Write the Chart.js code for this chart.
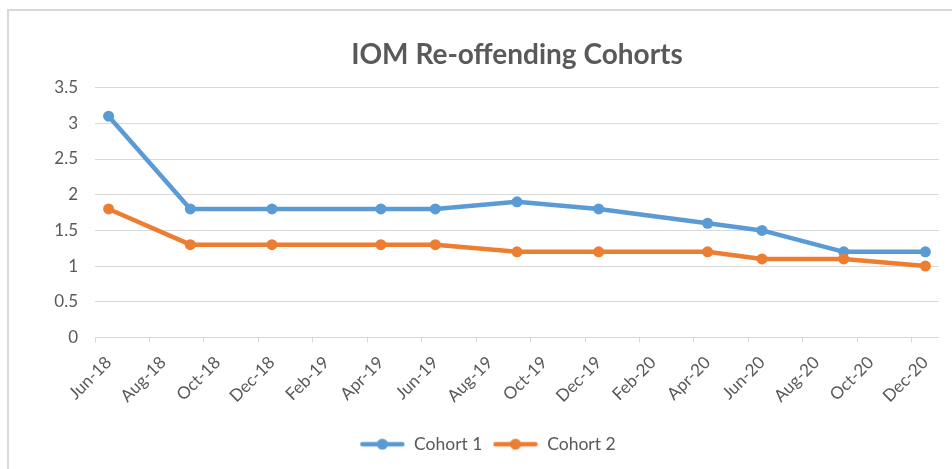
<!DOCTYPE html>
<html>
<head>
<meta charset="utf-8">
<script src="https://cdn.jsdelivr.net/npm/chart.js@4/dist/chart.umd.min.js"></script>
<style>
  html, body { margin: 0; padding: 0; background: #ffffff; overflow: hidden; }
  #wrap { position: relative; width: 952px; height: 469px; }
  #frame { position: absolute; left: 7px; top: 9px; width: 980px; height: 500px; border: 2px solid #d9d9d9; box-sizing: border-box; }
  canvas { position: absolute; left: 0; top: 0; }
</style>
</head>
<body>
<div id="wrap">
  <div id="frame"></div>
  <canvas id="c" width="952" height="469"></canvas>
</div>
<script>
// ---- data ----
const pointDates = ['2018-06','2018-09','2018-12','2019-04','2019-06','2019-09','2019-12','2020-04','2020-06','2020-09','2020-12'];
const cohort1 = [3.1, 1.8, 1.8, 1.8, 1.8, 1.9, 1.8, 1.6, 1.5, 1.2, 1.2];
const cohort2 = [1.8, 1.3, 1.3, 1.3, 1.3, 1.2, 1.2, 1.2, 1.1, 1.1, 1.0];
const seriesNames = ['Cohort 1', 'Cohort 2'];
const tickLabels = ['Jun-18','Aug-18','Oct-18','Dec-18','Feb-19','Apr-19','Jun-19','Aug-19','Oct-19','Dec-19','Feb-20','Apr-20','Jun-20','Aug-20','Oct-20','Dec-20'];
const yTicks = [0, 0.5, 1, 1.5, 2, 2.5, 3, 3.5];
const titleText = 'IOM Re-offending Cohorts';

// month slots counted from Jun-18; each point sits in the middle of its month slot
const START_Y = 2018, START_M = 6;
function monthSlot(s) {
  const [y, m] = s.split('-').map(Number);
  return (y - START_Y) * 12 + (m - START_M);
}
const tickSlots = tickLabels.map(l => {
  const months = {Jan:1,Feb:2,Mar:3,Apr:4,May:5,Jun:6,Jul:7,Aug:8,Sep:9,Oct:10,Nov:11,Dec:12};
  const [mn, yy] = l.split('-');
  return (2000 + Number(yy) - START_Y) * 12 + (months[mn] - START_M);
});
const X_MAX = tickSlots[tickSlots.length - 1] + 1;

const COL1 = '#5B9BD5', COL2 = '#ED7D31';
const TXT = '#595959', GRID = '#d9d9d9';
const FONT = 'Lato, "Open Sans", sans-serif';

function legendIcon(color) {
  const c = document.createElement('canvas');
  c.width = 46; c.height = 12;
  const g = c.getContext('2d');
  g.strokeStyle = color; g.lineWidth = 4.5; g.lineCap = 'round';
  g.beginPath(); g.moveTo(3, 6); g.lineTo(43, 6); g.stroke();
  g.fillStyle = color; g.beginPath(); g.arc(23, 6, 5.5, 0, Math.PI * 2); g.fill();
  return c;
}
const icons = [legendIcon(COL1), legendIcon(COL2)];

const toPts = vals => vals.map((v, i) => ({x: monthSlot(pointDates[i]) + 0.5, y: v}));

new Chart(document.getElementById('c'), {
  type: 'line',
  data: {
    datasets: [
      { label: seriesNames[0], data: toPts(cohort1), borderColor: COL1, backgroundColor: COL1,
        pointBackgroundColor: COL1, pointBorderWidth: 0, pointRadius: 5.5, borderWidth: 4.5, order: 1,
        borderCapStyle: 'round', borderJoinStyle: 'round' },
      { label: seriesNames[1], data: toPts(cohort2), borderColor: COL2, backgroundColor: COL2,
        pointBackgroundColor: COL2, pointBorderWidth: 0, pointRadius: 5.5, borderWidth: 4.5, order: 0,
        borderCapStyle: 'round', borderJoinStyle: 'round' }
    ]
  },
  options: {
    responsive: false,
    animation: false,
    layout: { padding: { left: 36, right: 13, top: 0, bottom: 6 } },
    plugins: {
      tooltip: { enabled: false },
      title: {
        display: true, text: titleText, color: TXT, fullSize: false,
        font: { family: FONT, size: 28, weight: 'bold' },
        padding: { top: 38, bottom: 16 }
      },
      legend: {
        position: 'bottom',
        labels: {
          usePointStyle: true, pointStyleWidth: 46, color: TXT, padding: 10,
          font: { family: FONT, size: 17.5 },
          generateLabels(chart) {
            return chart.data.datasets.map((ds, i) => ({
              text: ds.label, fillStyle: ds.borderColor, strokeStyle: ds.borderColor,
              lineWidth: 0, pointStyle: icons[i], hidden: !chart.isDatasetVisible(i),
              datasetIndex: i, fontColor: TXT
            }));
          }
        }
      }
    },
    scales: {
      y: {
        min: 0, max: 3.5,
        afterBuildTicks(axis) { axis.ticks = yTicks.map(v => ({value: v})); },
        afterFit(axis) { axis.width = 59; },
        grid: { color: GRID, lineWidth: 1, drawTicks: false },
        border: { display: false },
        ticks: { color: TXT, padding: 17, font: { family: FONT, size: 17 }, callback: v => String(v) }
      },
      xm: {
        type: 'linear', position: 'bottom', min: 0, max: X_MAX, weight: 0,
        afterBuildTicks(axis) { axis.ticks = tickSlots.map(v => ({value: v})); },
        ticks: { display: false },
        grid: { drawOnChartArea: false, drawTicks: true, tickLength: 5, color: GRID, lineWidth: 1 },
        border: { display: false }
      },
      x: {
        type: 'linear', position: 'bottom', min: 0, max: X_MAX, weight: 1,
        afterBuildTicks(axis) { axis.ticks = tickSlots.map(v => ({value: v + 0.5})); },
        afterFit(axis) { axis.height = 83; },
        grid: { display: false, drawTicks: false },
        border: { display: false },
        ticks: {
          autoSkip: false, maxRotation: 45, minRotation: 45, color: TXT, padding: 10,
          font: { family: FONT, size: 17 },
          callback: (v, i) => tickLabels[i]
        }
      }
    }
  }
});
</script>
</body>
</html>
